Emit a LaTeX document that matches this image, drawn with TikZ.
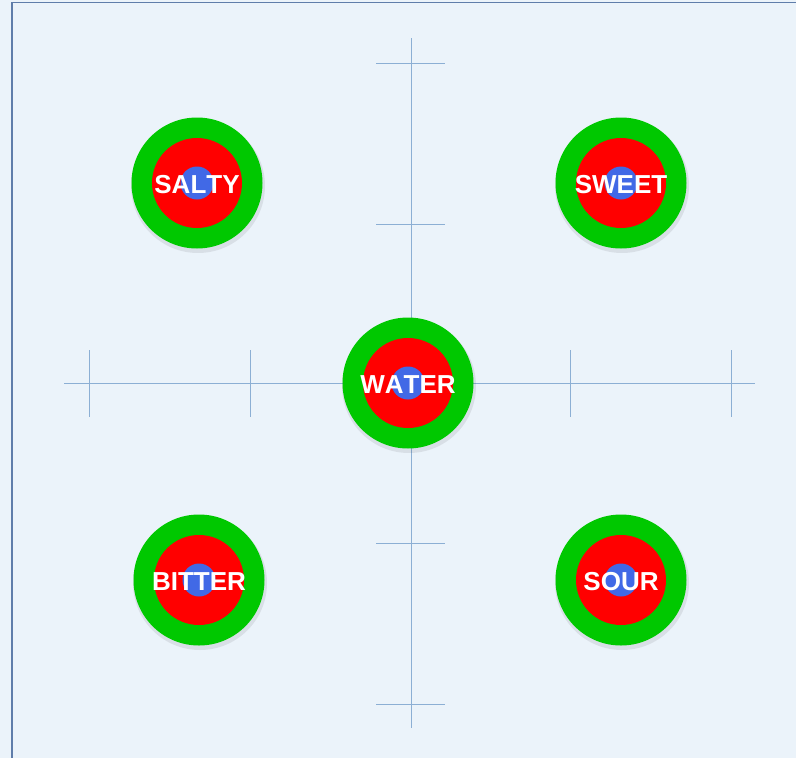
\documentclass[tikz,border=0pt]{standalone}
\usepackage{fontspec}
\setmainfont[Kerning=Off]{Liberation Sans}
\definecolor{bgc}{RGB}{235,243,250}
\definecolor{framec}{RGB}{95,125,170}
\definecolor{axisc}{RGB}{140,175,212}
\definecolor{ringg}{RGB}{0,200,0}
\definecolor{ringr}{RGB}{255,0,0}
\definecolor{ringb}{RGB}{65,105,230}
\tikzset{
  axisline/.style={draw=axisc, line width=1pt},
  taste/.style={circle, minimum size=131pt, inner sep=0pt, text=white,
    font=\fontsize{26}{26}\selectfont\bfseries, yshift=-1.5pt,
    path picture={
      \fill[ringr] ([yshift=1.5pt]path picture bounding box.center) circle (45pt);
      \fill[ringb] ([yshift=1.5pt]path picture bounding box.center) circle (16.5pt);
    },
    fill=none},
  ringo/.style={fill=ringg},
  shade/.style={fill=black, opacity=0.08}
}
\begin{document}
\begin{tikzpicture}[x=1pt,y=-1pt]
\useasboundingbox (0,0) rectangle (796,758);
\fill[bgc] (0,0) rectangle (796,758);
\draw[framec, line width=1.2pt] (12,770) -- (12,2.5) -- (810,2.5);
% axes
\coordinate (hl) at (64,383); \coordinate (hr) at (755,383);
\coordinate (vt) at (411,38); \coordinate (vb) at (411,728);
\draw[axisline] (hl) -- (hr);
\draw[axisline] (vt) -- (vb);
\foreach \x in {89,250,570,731} \draw[axisline] (\x,350) -- (\x,417);
\foreach \y in {63,224,543,704} \draw[axisline] (376,\y) -- (445,\y);
% shadows and outer rings
\foreach \cx/\cy in {197/183,621/183,408/383,199/580,621/580}{
  \fill[shade] (\cx+1,\cy+3) circle (67pt);
  \fill[ringo] (\cx,\cy) circle (65.5pt);}
% circles
\node[taste] (salty) at (197,183) {SALTY};
\node[taste] (sweet) at (621,183) {SWEET};
\node[taste] (water) at (408,383) {WATER};
\node[taste] (bitter) at (199,580) {BITTER};
\node[taste] (sour) at (621,580) {SOUR};
\end{tikzpicture}
\end{document}
